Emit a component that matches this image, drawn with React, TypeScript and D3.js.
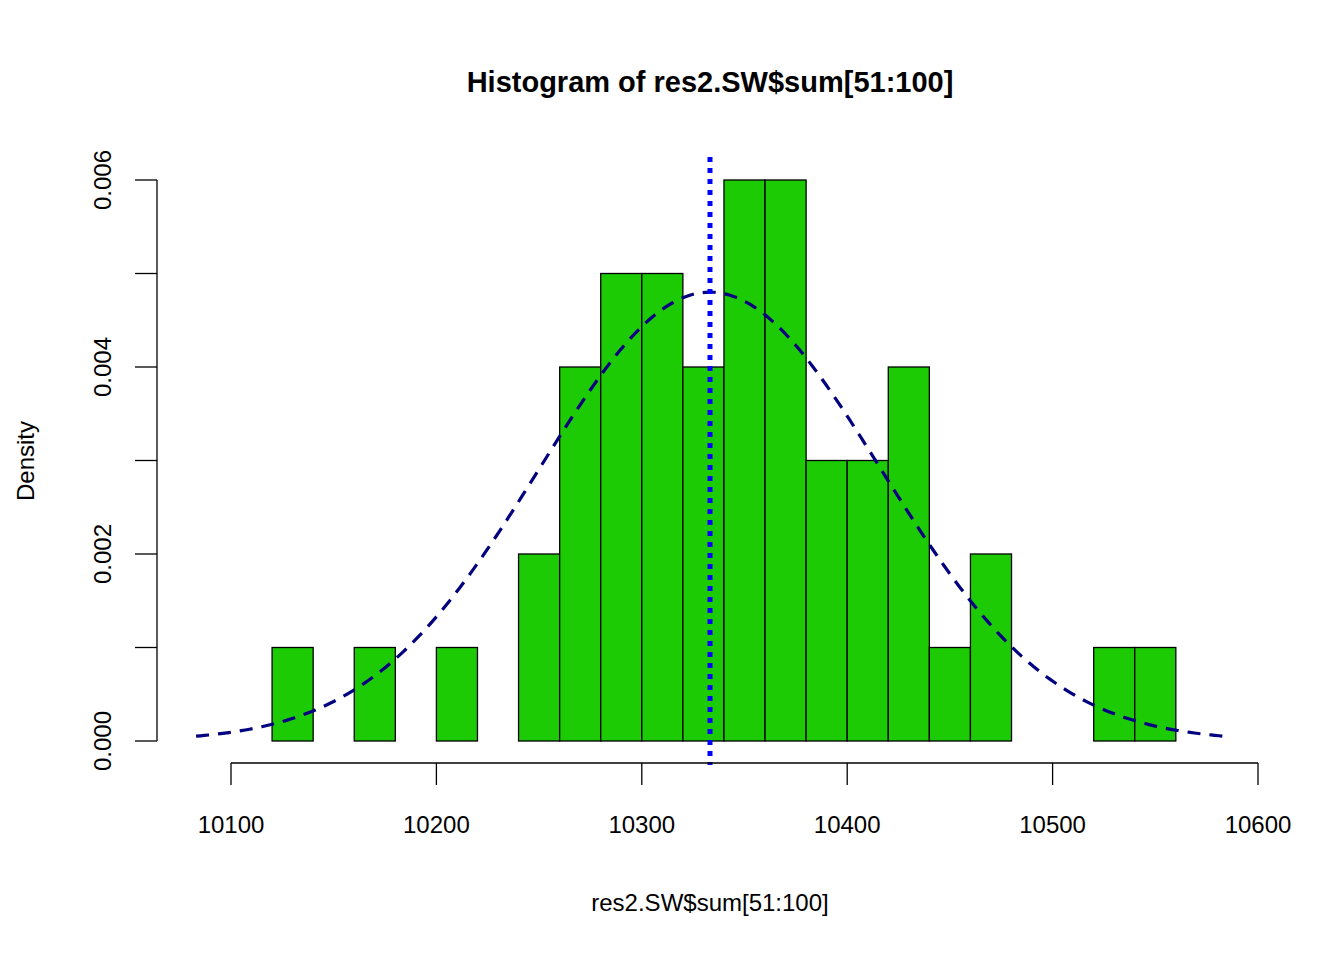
import React, { useRef, useEffect } from "react";
import * as d3 from "d3";

// histogram bins of res2.SW$sum[51:100] (width 20)
const binStarts = [10120, 10140, 10160, 10180, 10200, 10220, 10240, 10260, 10280, 10300, 10320, 10340, 10360, 10380, 10400, 10420, 10440, 10460, 10480, 10500, 10520, 10540];
const binCounts = [1, 0, 1, 0, 1, 0, 2, 4, 5, 5, 4, 6, 6, 3, 3, 4, 1, 2, 0, 0, 1, 1];
const binWidth = 20;
const xTicks = [10100, 10200, 10300, 10400, 10500, 10600];
const yTicks = [0, 0.001, 0.002, 0.003, 0.004, 0.005, 0.006];
const sampleMean = 10333.2;
const sampleSd = 83.1;
const curveRange = [10083, 10585];

const App: React.FC = () => {
  const ref = useRef<SVGSVGElement>(null);

  useEffect(() => {
    const svg = d3.select(ref.current);
    svg.selectAll("*").remove();
    const font = "Liberation Sans, Arial, sans-serif";
    const n = d3.sum(binCounts);

    const x = d3.scaleLinear().domain([10100, 10600]).range([231, 1258]);
    const y = d3.scaleLinear().domain([0, 0.006]).range([741, 180]);

    // bars
    svg.append("g")
      .selectAll("rect")
      .data(binStarts)
      .enter()
      .append("rect")
      .attr("x", (d) => x(d))
      .attr("width", (d) => x(d + binWidth) - x(d))
      .attr("y", (d, i) => y(binCounts[i] / (n * binWidth)))
      .attr("height", (d, i) => y(0) - y(binCounts[i] / (n * binWidth)))
      .attr("fill", "#1CCB04")
      .attr("stroke", "black")
      .attr("stroke-width", 1.3);

    // normal curve
    const pts = d3.range(curveRange[0], curveRange[1] + 1, 2).map((v) => [
      v,
      Math.exp(-0.5 * ((v - sampleMean) / sampleSd) ** 2) / (sampleSd * Math.sqrt(2 * Math.PI)),
    ]);
    const line = d3.line<number[]>().x((d) => x(d[0])).y((d) => y(d[1]));
    svg.append("path")
      .attr("d", line(pts) || "")
      .attr("fill", "none")
      .attr("stroke", "#000080")
      .attr("stroke-width", 3.2)
      .attr("stroke-dasharray", "13,9");

    // mean line
    svg.append("line")
      .attr("x1", x(sampleMean)).attr("x2", x(sampleMean))
      .attr("y1", 157).attr("y2", 765)
      .attr("stroke", "#0000FF")
      .attr("stroke-width", 5)
      .attr("stroke-dasharray", "5,6");

    // x axis
    const xa = svg.append("g").attr("font-family", font).attr("font-size", 24);
    xa.append("line").attr("x1", x(10100)).attr("x2", x(10600)).attr("y1", 763).attr("y2", 763).attr("stroke", "black").attr("stroke-width", 1.3);
    xTicks.forEach((t) => {
      xa.append("line").attr("x1", x(t)).attr("x2", x(t)).attr("y1", 763).attr("y2", 785).attr("stroke", "black").attr("stroke-width", 1.3);
      xa.append("text").attr("x", x(t)).attr("y", 833).attr("text-anchor", "middle").text(t);
    });

    // y axis
    const ya = svg.append("g").attr("font-family", font).attr("font-size", 24);
    ya.append("line").attr("x1", 157).attr("x2", 157).attr("y1", y(0)).attr("y2", y(0.006)).attr("stroke", "black").attr("stroke-width", 1.3);
    yTicks.forEach((t) => {
      ya.append("line").attr("x1", 157).attr("x2", 135).attr("y1", y(t)).attr("y2", y(t)).attr("stroke", "black").attr("stroke-width", 1.3);
      if (Math.round(t * 1000) % 2 === 0)
        ya.append("text")
          .attr("transform", `translate(111, ${y(t)}) rotate(-90)`)
          .attr("text-anchor", "middle")
          .text(t.toFixed(3));
    });

    svg.append("text").attr("x", 710).attr("y", 92).attr("text-anchor", "middle")
      .attr("font-family", font).attr("font-size", 29).attr("font-weight", "bold")
      .text("Histogram of res2.SW$sum[51:100]");
    svg.append("text").attr("x", 710).attr("y", 911).attr("text-anchor", "middle")
      .attr("font-family", font).attr("font-size", 24).text("res2.SW$sum[51:100]");
    svg.append("text").attr("transform", "translate(34, 461) rotate(-90)").attr("text-anchor", "middle")
      .attr("font-family", font).attr("font-size", 24).text("Density");
  }, []);

  return <svg ref={ref} width={1344} height={960} style={{ position: "absolute", left: 0, top: 0, background: "white" }} />;
};

export default App;
